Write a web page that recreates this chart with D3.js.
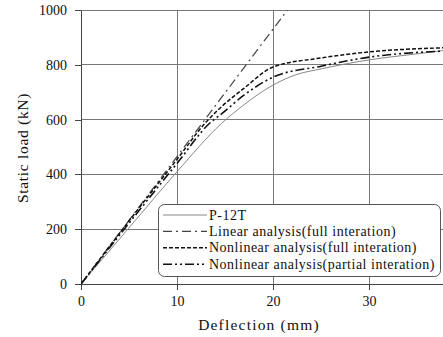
<!DOCTYPE html>
<html><head><meta charset="utf-8">
<script src="https://cdn.jsdelivr.net/npm/d3@7"></script>
<style>body{margin:0;background:#fff}</style>
</head><body><svg id="c" width="443" height="337"></svg>
<script>
const xTicks = [0, 10, 20, 30];
const yTicks = [0, 200, 400, 600, 800, 1000];
const seriesNames = ["P-12T", "Linear analysis(full interation)", "Nonlinear analysis(full interation)", "Nonlinear analysis(partial interation)"];
const p12t = [[0,0],[5,205],[10,410],[14.6,585],[17,655],[20,726],[22.5,765],[25,785],[30,818],[35,840],[37.7,852]];
const linearFull = [[0,0],[10,465],[21.5,1000]];
const nonlinFull = [[0,0],[5,230],[10,455],[13,590],[14.6,646],[17,715],[20,792],[25,825],[30,847],[37.7,862]];
const nonlinPartial = [[0,0],[5,222],[10,440],[13.5,590],[14.6,620],[17,690],[20,755],[25,795],[30,828],[37.7,850]];

const FONT = "'Liberation Serif', 'DejaVu Serif', 'Times New Roman', serif";
const svg = d3.select("#c");
const x = d3.scaleLinear().domain([0, 37.7]).range([81, 443]);
const y = d3.scaleLinear().domain([0, 1000]).range([284, 10]);

svg.append("g").selectAll("line").data(yTicks.slice(1)).join("line")
  .attr("x1", 81).attr("x2", 443).attr("y1", d=>y(d)).attr("y2", d=>y(d))
  .attr("stroke", "#777").attr("stroke-width", 1).attr("shape-rendering","crispEdges");
svg.append("g").selectAll("line").data(xTicks.slice(1)).join("line")
  .attr("y1", 10).attr("y2", 284).attr("x1", d=>x(d)).attr("x2", d=>x(d))
  .attr("stroke", "#777").attr("stroke-width", 1).attr("shape-rendering","crispEdges");

const gx = svg.append("g").attr("transform", "translate(0,284)")
  .call(d3.axisBottom(x).tickValues(xTicks).tickFormat(d3.format("d")).tickSize(6).tickSizeOuter(0).tickPadding(6));
const gy = svg.append("g").attr("transform", "translate(81,0)")
  .call(d3.axisLeft(y).tickValues(yTicks).tickFormat(d3.format("d")).tickSize(6).tickSizeOuter(0).tickPadding(8));
[gx, gy].forEach(g => {
  g.attr("font-family", FONT).attr("font-size", 14);
  g.selectAll("path,line").attr("stroke", "#444").attr("shape-rendering","crispEdges");
  g.selectAll("text").attr("font-family", FONT).attr("font-size", 14).attr("fill", "#111");
});

svg.append("text").attr("x", 259).attr("y", 330).attr("text-anchor", "middle").attr("font-family", FONT)
  .attr("font-size", 15.5).attr("letter-spacing", 1.2).attr("fill", "#111").text("Deflection (mm)");
svg.append("text").attr("transform", "translate(28,148) rotate(-90)").attr("text-anchor", "middle").attr("font-family", FONT)
  .attr("font-size", 15.5).attr("letter-spacing", 0.7).attr("fill", "#111").text("Static load (kN)");

const styles = [
  {data: p12t, stroke: "#888", w: 1, dash: null},
  {data: linearFull, stroke: "#444", w: 1.2, dash: "9,4,2,4"},
  {data: nonlinFull, stroke: "#111", w: 1.5, dash: "4,2"},
  {data: nonlinPartial, stroke: "#111", w: 1.6, dash: "9,3,2,3,2,3"}
];
const line = d3.line().x(d=>x(d[0])).y(d=>y(d[1])).curve(d3.curveMonotoneX);
svg.append("defs").append("clipPath").attr("id","clp").append("rect").attr("x",81).attr("y",10).attr("width",362).attr("height",274);
const lg = svg.append("g").attr("clip-path","url(#clp)");
styles.forEach(s => {
  lg.append("path").datum(s.data).attr("d", line).attr("fill", "none")
    .attr("stroke", s.stroke).attr("stroke-width", s.w).attr("stroke-dasharray", s.dash);
});

const leg = svg.append("g");
leg.append("rect").attr("x", 158.5).attr("y", 204.5).attr("width", 282).attr("height", 72).attr("rx", 6)
  .attr("fill", "#fff").attr("stroke", "#555").attr("stroke-width", 1);
seriesNames.forEach((n, i) => {
  const yy = 215 + i * 16.4;
  const s = styles[i];
  leg.append("line").attr("x1", 163).attr("x2", 207).attr("y1", yy).attr("y2", yy)
    .attr("stroke", s.stroke).attr("stroke-width", s.w).attr("stroke-dasharray", s.dash);
  leg.append("text").attr("x", 209).attr("y", yy + 4.5).attr("font-family", FONT)
    .attr("font-size", 14).attr("letter-spacing", 0.5).attr("fill", "#111").text(n);
});
</script></body></html>
